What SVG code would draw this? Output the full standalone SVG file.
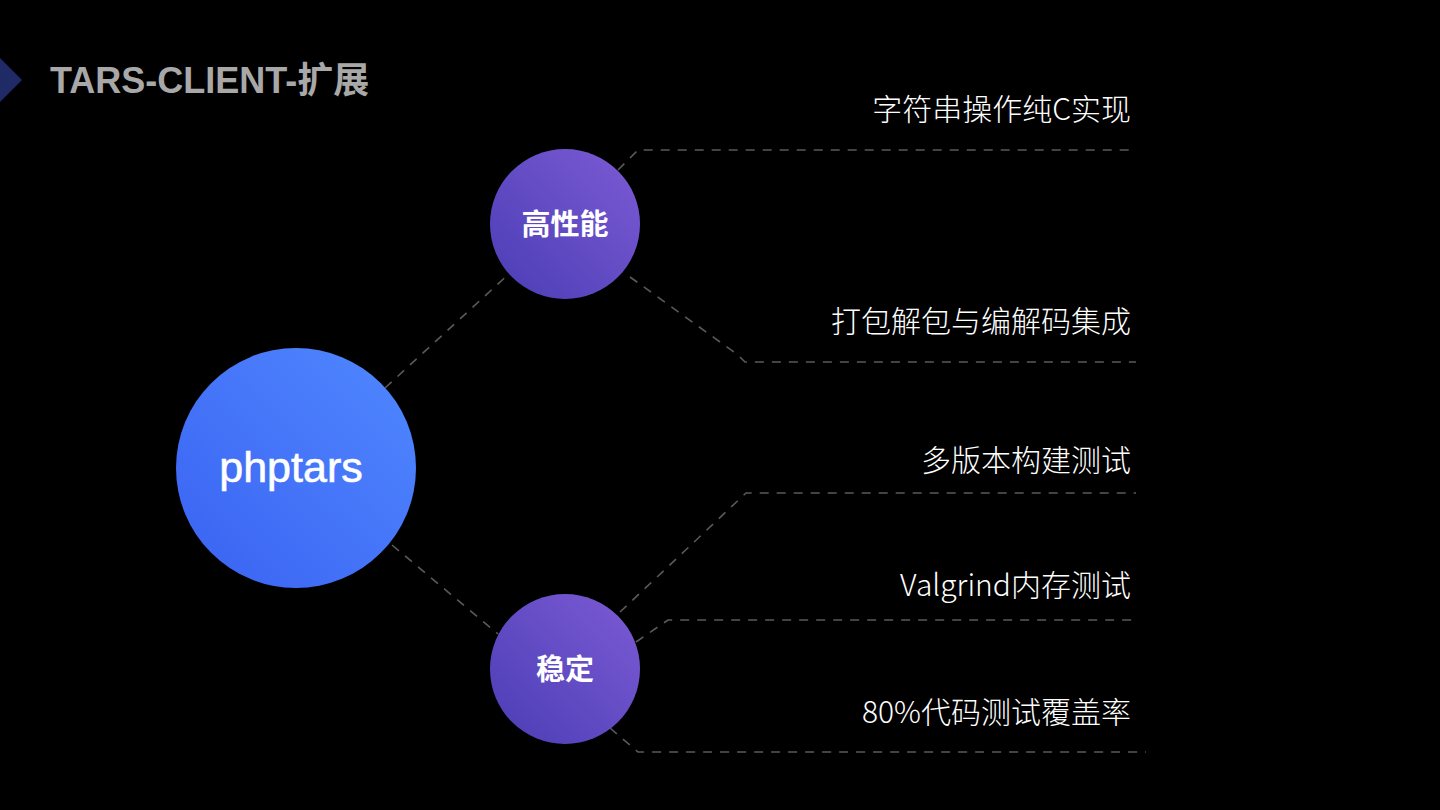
<svg xmlns="http://www.w3.org/2000/svg" width="1440" height="810" viewBox="0 0 1440 810">
<style>
.dash{fill:none;stroke:#5a5a5a;stroke-width:1.6;stroke-dasharray:9 8}
.item{font-family:"Noto Sans CJK SC","Liberation Sans",sans-serif;font-size:30px;font-weight:300;fill:#ffffff;text-anchor:end}
.lbl{font-family:"Noto Sans CJK SC","Liberation Sans",sans-serif;font-size:29px;font-weight:700;fill:#ffffff;text-anchor:middle}
</style>
<defs>
<linearGradient id="gBlue" x1="1" y1="0" x2="0" y2="1">
<stop offset="0" stop-color="#5088ff"/>
<stop offset="1" stop-color="#3a62f2"/>
</linearGradient>
<linearGradient id="gPurple" x1="1" y1="0" x2="0" y2="1">
<stop offset="0" stop-color="#7c5bd4"/>
<stop offset="1" stop-color="#4a3db5"/>
</linearGradient>
</defs>
<rect width="1440" height="810" fill="#000000"/>
<polygon points="0,58 22,80 0,102" fill="#1f2a66"/>
<text x="50" y="93" font-family="'Liberation Sans','Noto Sans CJK SC',sans-serif" font-size="36" font-weight="700" fill="#a8a8a8">TARS-CLIENT-扩展</text>
<g id="connectors">
<line class="dash" x1="385" y1="388" x2="512" y2="271"/>
<polyline class="dash" points="618,170 638,150 1130,150"/>
<polyline class="dash" points="630,277 738,355 745,362 1136,362"/>
<line class="dash" x1="392" y1="545" x2="498" y2="634"/>
<polyline class="dash" points="620,612 746,493 1136,493"/>
<polyline class="dash" points="636,642 668,620 1137,620"/>
<polyline class="dash" points="610,728 638,752 1146,752"/>
</g>
<g id="node-phptars">
<circle cx="296" cy="468" r="120" fill="url(#gBlue)"/>
<text x="291" y="482" font-family="'Liberation Sans',sans-serif" font-size="43" font-weight="400" fill="#ffffff" text-anchor="middle" stroke="#ffffff" stroke-width="0.6">phptars</text>
</g>
<g id="node-perf">
<circle cx="565" cy="224" r="75" fill="url(#gPurple)"/>
<text class="lbl" x="565" y="235">高性能</text>
</g>
<g id="node-stable">
<circle cx="565" cy="669" r="75" fill="url(#gPurple)"/>
<text class="lbl" x="565" y="680">稳定</text>
</g>
<g id="items">
<text class="item" x="1131" y="120">字符串操作纯C实现</text>
<text class="item" x="1131" y="332">打包解包与编解码集成</text>
<text class="item" x="1131" y="471">多版本构建测试</text>
<text class="item" x="1131" y="596">Valgrind内存测试</text>
<text class="item" x="1131" y="723">80%代码测试覆盖率</text>
</g>
</svg>
